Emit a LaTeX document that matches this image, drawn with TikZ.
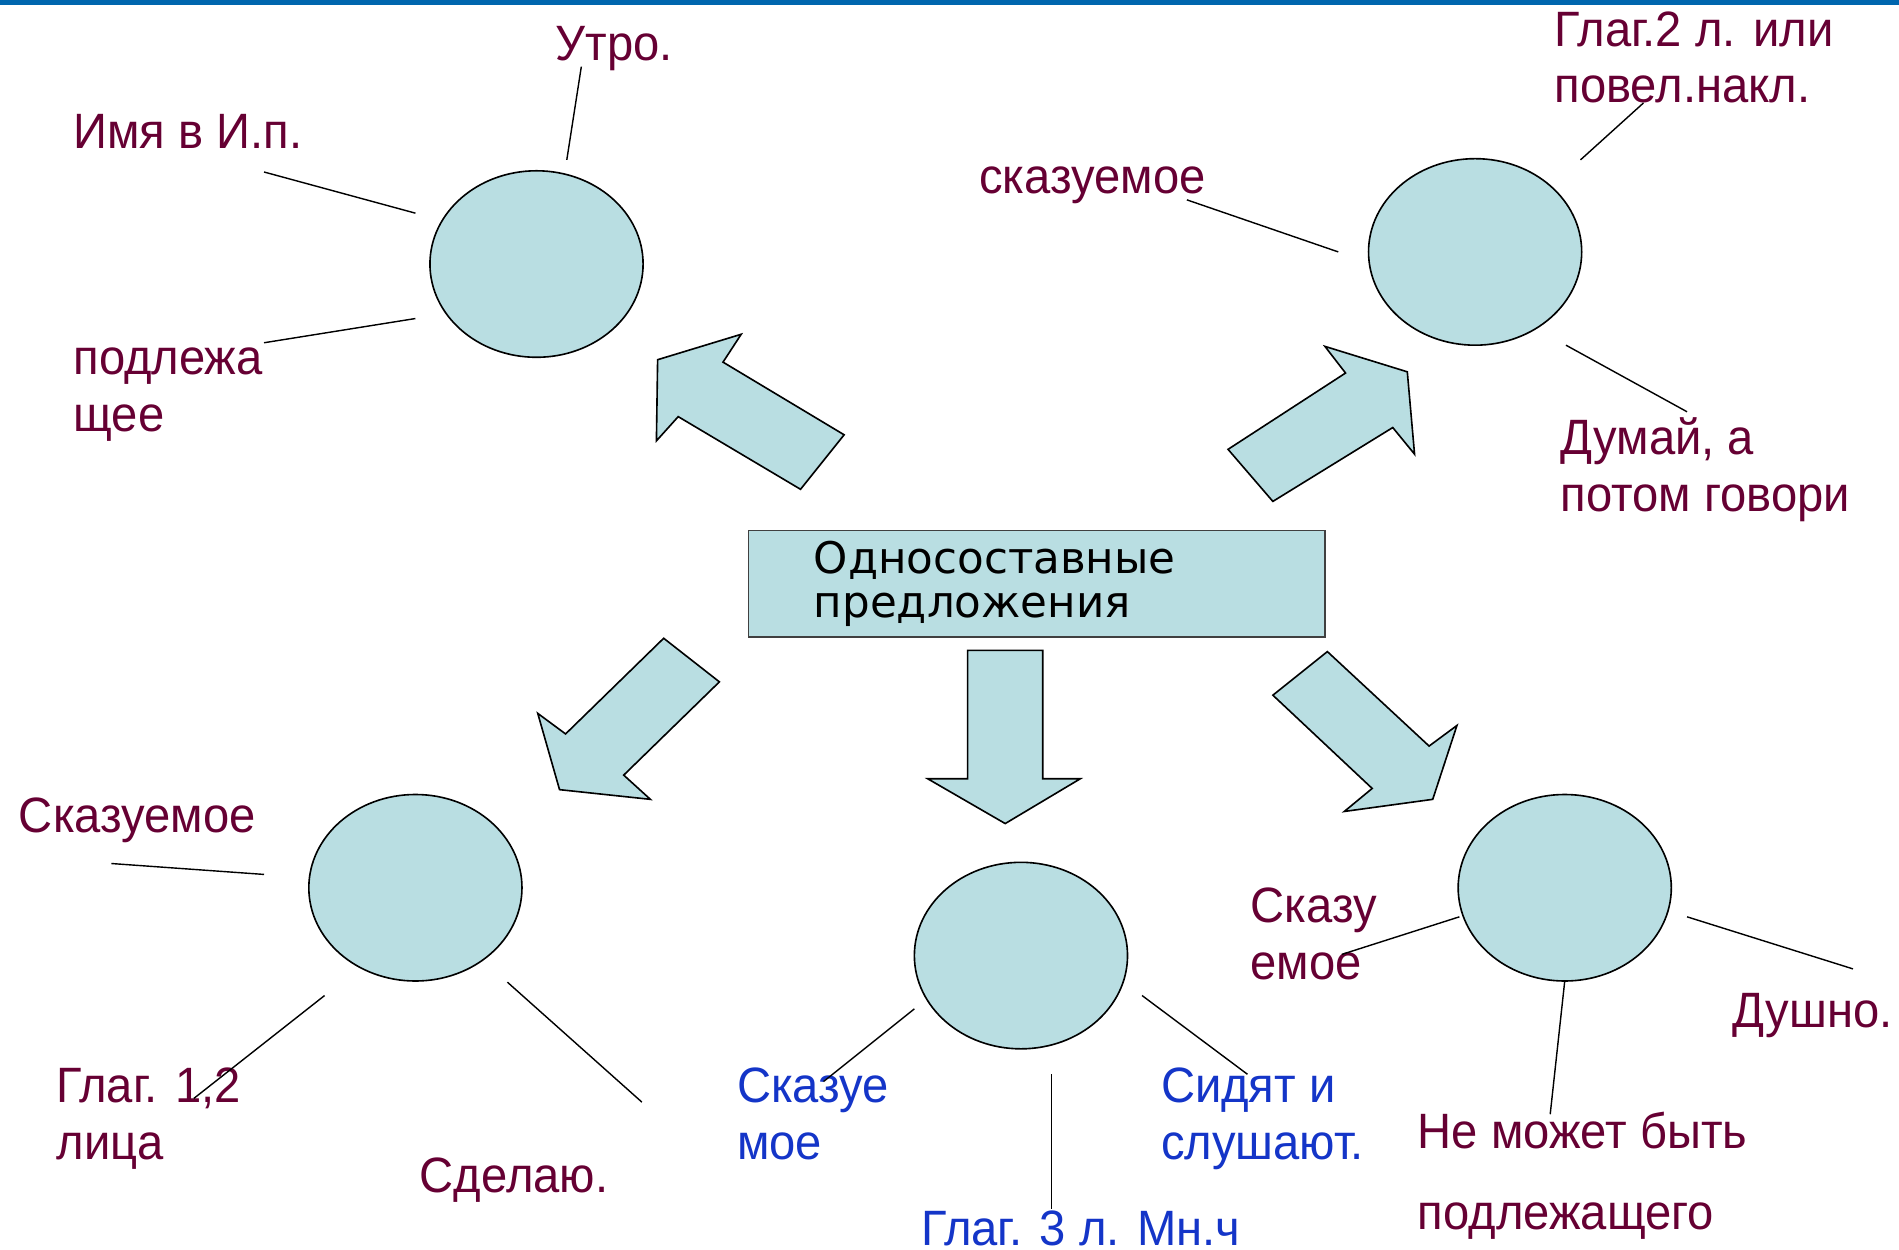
\documentclass[tikz,border=0pt]{standalone}
\usepackage{fontspec}
\setmainfont{Liberation Sans}
\newfontfamily\lblfont[FakeStretch=0.95]{Liberation Sans}
\newfontfamily\boxfont{DejaVu Sans}
\usetikzlibrary{shapes.geometric}
\definecolor{fillblue}{HTML}{B9DEE2}
\definecolor{lblred}{HTML}{660033}
\definecolor{lblblue}{HTML}{1435C8}
\definecolor{barblue}{HTML}{0066AE}
\newcommand\twoln[3]{\vtop{\baselineskip=#1\hbox{#2}\hbox{#3}}}
\tikzset{
  oval/.style={ellipse, draw=black, line width=0.4pt, fill=fillblue,
    minimum width=52.8pt, minimum height=46.2pt, inner sep=0pt},
  blk/.style={draw=black, line width=0.4pt, fill=fillblue, line join=miter},
  lbl/.style={anchor=base west, inner sep=0pt, text=lblred,
    font=\lblfont\fontsize{12.3}{14.1}\selectfont},
  lblb/.style={lbl, text=lblblue},
  conn/.style={draw=black, line width=0.35pt},
  mainbox/.style={draw=black!75, line width=0.4pt, fill=fillblue,
    minimum width=142.8pt, minimum height=26.4pt, text width=110.4pt,
    inner xsep=16.2pt, inner ysep=0pt, align=left,
    font=\boxfont\fontsize{10.8}{10.8}\selectfont}
}
\begin{document}
\begin{tikzpicture}[x=0.3pt,y=-0.3pt]
\useasboundingbox (0,0) rectangle (1568,1032);
\fill[barblue] (0,0) rectangle (1568,4);

% central box
\node[mainbox] (center) at (856,482) {Односоставные\\предложения};

% ellipses
\node[oval] (e1) at (443,218) {};
\node[oval] (e2) at (1218,208) {};
\node[oval] (e3) at (343,733) {};
\node[oval] (e4) at (843,789) {};
\node[oval] (e5) at (1292,733) {};

% block arrows
\draw[blk] (543,297) -- (612,276) -- (597,299) -- (697,359) -- (661,404)
  -- (560,344) -- (542,364) -- cycle;
\draw[blk] (1162,307) -- (1094,286) -- (1111,308) -- (1014,371) -- (1051,414)
  -- (1150,353) -- (1168,375) -- cycle;
\draw[blk] (462,652) -- (444,589) -- (467,606) -- (548,527) -- (594,563)
  -- (515,640) -- (537,660) -- cycle;
\draw[blk] (830,680) -- (766,643) -- (799,643) -- (799,537) -- (861,537)
  -- (861,643) -- (892,643) -- cycle;
\draw[blk] (1183,660) -- (1110,670) -- (1133,651) -- (1051,574) -- (1096,538)
  -- (1180,616) -- (1203,599) -- cycle;

% labels
\node[lbl] (t1) at (458,50) {Утро.};
\node[lbl] (t2) at (60,123) {Имя в И.п.};
\node[lbl] (t3) at (60,309) {\twoln{14.1pt}{подлежа}{щее}};
\node[lbl] (t4) at (1283,38) {\twoln{14.1pt}{Глаг.2 л. или}{повел.накл.}};
\node[lbl] (t5) at (808,160) {сказуемое};
\node[lbl] (t6) at (1288,375) {\twoln{14.1pt}{Думай, а}{потом говори}};
\node[lbl] (t7) at (15,687) {Сказуемое};
\node[lbl] (t8) at (46,910) {\twoln{14.1pt}{Глаг. 1,2}{лица}};
\node[lbl] (t9) at (346,985) {Сделаю.};
\node[lblb] (t10) at (608,910) {\twoln{14.1pt}{Сказуе}{мое}};
\node[lblb] (t11) at (760,1028) {Глаг. 3 л. Мн.ч};
\node[lblb] (t12) at (958,910) {\twoln{14.1pt}{Сидят и}{слушают.}};
\node[lbl] (t13) at (1032,762) {\twoln{14.1pt}{Сказу}{емое}};
\node[lbl] (t14) at (1430,848) {Душно.};
\node[lbl] (t15) at (1170,948) {\twoln{20.1pt}{Не может быть}{подлежащего}};

% connector end points
\coordinate (a1) at (480,55);   \coordinate (b1) at (468,132);
\coordinate (a2) at (218,142);  \coordinate (b2) at (343,176);
\coordinate (a3) at (218,283);  \coordinate (b3) at (343,263);
\coordinate (a4) at (1357,85);  \coordinate (b4) at (1305,132);
\coordinate (a5) at (980,165);  \coordinate (b5) at (1105,208);
\coordinate (a6) at (1393,340); \coordinate (b6) at (1293,285);
\coordinate (a7) at (92,713);   \coordinate (b7) at (218,722);
\coordinate (a8) at (160,907);  \coordinate (b8) at (268,822);
\coordinate (a9) at (530,910);  \coordinate (b9) at (419,811);
\coordinate (a10) at (680,893); \coordinate (b10) at (755,833);
\coordinate (a11) at (868,998); \coordinate (b11) at (868,887);
\coordinate (a12) at (1030,887);\coordinate (b12) at (943,822);
\coordinate (a13) at (1108,788);\coordinate (b13) at (1205,757);
\coordinate (a14) at (1530,800);\coordinate (b14) at (1393,757);
\coordinate (a15) at (1280,920);\coordinate (b15) at (1292,810);
\foreach \i in {1,...,15} { \draw[conn] (a\i) -- (b\i); }
\end{tikzpicture}
\end{document}
